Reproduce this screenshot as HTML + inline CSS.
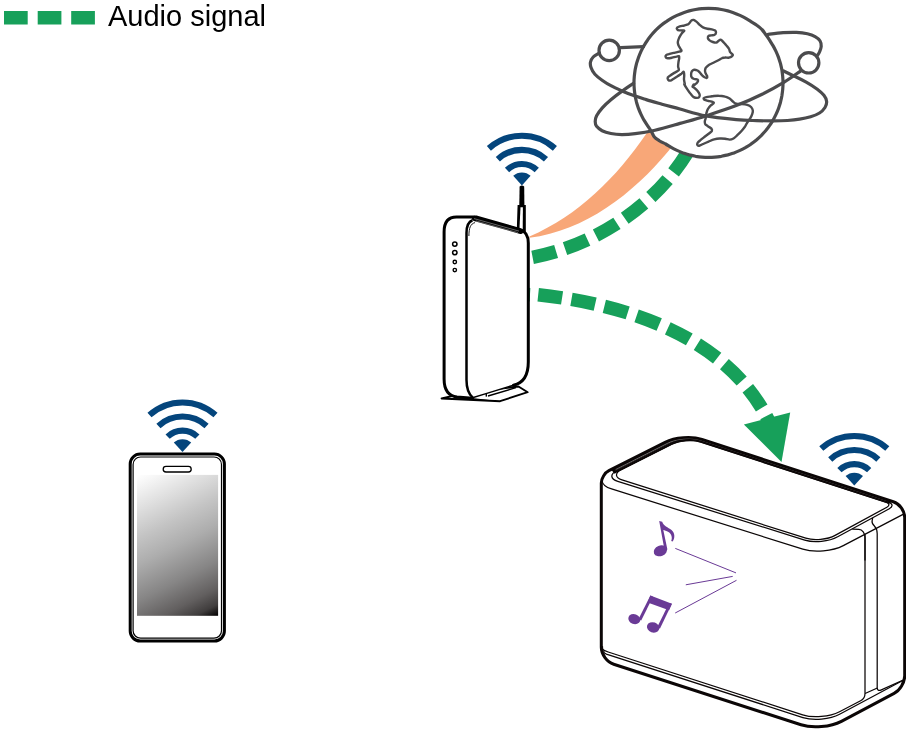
<!DOCTYPE html>
<html lang="en">
<head>
<meta charset="utf-8">
<title>Audio signal</title>
<style>
html,body{margin:0;padding:0;background:#fff;overflow:hidden}
svg{display:block}
text{font-family:"Liberation Sans",sans-serif}
</style>
</head>
<body>
<svg width="906" height="729" viewBox="0 0 906 729">
<defs>
  <g id="wifi" fill="none" stroke="#04457c" stroke-width="6.1">
    <path d="M-33.00,-37.03A49.6,49.6 0 0 1 33.00,-37.03"/>
    <path d="M-24.06,-26.17A35.55,35.55 0 0 1 24.06,-26.17"/>
    <path d="M-14.87,-15.46A21.45,21.45 0 0 1 14.87,-15.46"/>
    <path d="M0,0L-8.70,-9.53A12.9,12.9 0 0 1 8.70,-9.53Z" fill="#04457c" stroke="none"/>
  </g>
  <linearGradient id="scr" gradientUnits="userSpaceOnUse" x1="137" y1="475" x2="210" y2="619">
    <stop offset="0" stop-color="#ffffff"/>
    <stop offset="0.06" stop-color="#f6f6f6"/>
    <stop offset="0.2" stop-color="#dedede"/>
    <stop offset="0.35" stop-color="#c4c4c4"/>
    <stop offset="0.5" stop-color="#adadad"/>
    <stop offset="0.7" stop-color="#868585"/>
    <stop offset="0.85" stop-color="#625f5f"/>
    <stop offset="0.94" stop-color="#403d3d"/>
    <stop offset="1" stop-color="#060404"/>
  </linearGradient>
</defs>
<rect width="906" height="729" fill="#fff"/>
<g id="legend">
  <rect x="4" y="11" width="23.7" height="13.5" fill="#17a05a"/>
  <rect x="37.7" y="11" width="23.7" height="13.5" fill="#17a05a"/>
  <rect x="71.2" y="11" width="23.7" height="13.5" fill="#17a05a"/>
  <text x="108" y="26" font-size="29" fill="#000" style="will-change:transform">Audio signal</text>
</g>
<path id="orange" d="M646.3,133.8 C616.5,177.4 578.5,215.5 529.4,236.6 L529.4,237.8 C585.2,230.5 632.7,194 668.9,150.4 L690,120 L660,110 Z" fill="#f8a778"/>
<path id="gupper" d="M532.6,257.3 C600.4,244.3 664.6,200 696,137" fill="none" stroke="#17a05a" stroke-width="13.5" stroke-dasharray="24.2 9.4"/>
<path id="glower" d="M538.2,294.8 C626.9,304.4 729.9,337 770.5,424.5" fill="none" stroke="#17a05a" stroke-width="13.5" stroke-dasharray="24.2 9.4 24.2 9.4 24.2 9.4 24.2 9.4 24.2 9.4 24.2 9.4 24.2 9.4 24.2 9.4 40 0"/>
<path d="M528,294.6 L530,294.7" fill="none" stroke="#17a05a" stroke-width="13.5"/>
<path id="ghead" d="M743.9,424.6L790.2,412.5L781.5,461.9Z" fill="#17a05a"/>
<g id="globe" fill="none" stroke="#4b4b4d" stroke-width="3.2" stroke-linecap="round" stroke-linejoin="round">
  <path d="M680.0,123.4 C675.8,124.5 662.5,128.5 655.0,130.2 C647.5,131.9 640.7,133.0 635.2,133.7 C629.7,134.4 626.0,134.6 621.9,134.6 C617.8,134.6 614.2,134.2 610.9,133.5 C607.6,132.8 604.5,131.9 602.1,130.7 C599.7,129.5 597.8,127.8 596.6,126.3 C595.5,124.8 595.2,123.2 595.2,121.4 C595.2,119.7 595.5,118.0 596.6,115.8 C597.8,113.6 599.7,110.8 602.1,108.1 C604.5,105.4 607.7,102.5 610.9,99.8 C614.1,97.0 617.6,94.3 621.4,91.6 C625.2,88.8 631.5,84.7 633.5,83.3 L660,100 Z" fill="#fff" stroke="none"/>
  <path d="M634.0,82.9 C634.0,80.7 634.1,78.6 634.3,76.4 C634.5,74.3 634.8,72.1 635.1,70.0 C635.5,67.8 636.0,65.7 636.5,63.6 C637.1,61.5 637.8,59.5 638.5,57.4 C639.2,55.4 640.1,53.4 641.0,51.4 C641.9,49.5 642.9,47.5 644.0,45.7 C645.1,43.8 646.2,41.9 647.5,40.2 C648.7,38.4 650.0,36.7 651.4,35.0 C652.8,33.4 654.3,31.8 655.8,30.2 C657.4,28.7 659.0,27.2 660.6,25.8 C662.3,24.4 664.0,23.1 665.8,21.9 C667.5,20.6 669.4,19.5 671.2,18.4 C673.1,17.3 675.1,16.3 677.0,15.4 C679.0,14.5 681.0,13.6 683.0,12.9 C685.1,12.2 687.1,11.5 689.2,10.9 C691.3,10.4 693.4,9.9 695.6,9.5 C697.7,9.2 699.9,8.9 702.0,8.7 C704.2,8.5 706.3,8.4 708.5,8.4 C710.7,8.4 712.8,8.5 715.0,8.7 C717.1,8.9 719.3,9.2 721.4,9.5 C723.6,9.9 725.7,10.4 727.8,10.9 C729.9,11.5 731.9,12.2 734.0,12.9 C736.0,13.6 738.0,14.5 740.0,15.4 C741.9,16.3 743.9,17.3 745.8,18.4 C747.6,19.4 749.4,20.6 751.3,21.8 C753.1,22.9 755.1,24.0 756.8,25.3 C758.6,26.6 760.4,27.9 761.9,29.5 C763.4,31.0 764.6,33.0 765.9,34.8 C767.2,36.5 768.4,38.3 769.6,40.1 C770.7,42.0 771.9,43.8 773.0,45.6 C774.1,47.5 775.1,49.5 776.0,51.4 C776.9,53.4 777.8,55.4 778.5,57.4 C779.2,59.5 779.9,61.5 780.5,63.6 C781.0,65.7 781.5,67.8 781.9,70.0 C782.2,72.1 782.5,74.3 782.7,76.4 C782.9,78.6 783.0,80.7 783.0,82.9 C783.0,85.1 782.9,87.2 782.7,89.4 C782.5,91.5 782.2,93.7 781.9,95.8 C781.5,98.0 781.0,100.1 780.5,102.2 C779.9,104.3 779.2,106.3 778.5,108.4 C777.8,110.4 776.9,112.4 776.0,114.4 C775.1,116.3 774.1,118.3 773.0,120.2 C771.9,122.0 770.8,123.9 769.5,125.6 C768.3,127.4 767.0,129.1 765.6,130.8 C764.2,132.4 762.7,134.0 761.2,135.6 C759.6,137.1 758.0,138.6 756.4,140.0 C754.7,141.4 753.0,142.7 751.2,143.9 C749.5,145.2 747.6,146.3 745.8,147.4 C743.9,148.5 741.9,149.5 740.0,150.4 C738.0,151.3 736.0,152.2 734.0,152.9 C731.9,153.6 729.9,154.3 727.8,154.9 C725.7,155.4 723.6,155.9 721.4,156.3 C719.3,156.6 717.1,156.9 715.0,157.1 C712.8,157.3 710.7,157.4 708.5,157.4 C706.3,157.4 704.2,157.3 702.0,157.1 C699.9,156.9 697.7,156.6 695.6,156.3 C693.4,155.9 691.3,155.4 689.2,154.9 C687.1,154.3 685.1,153.6 683.0,152.9 C681.0,152.2 679.0,151.3 677.0,150.4 C675.1,149.5 673.1,148.5 671.2,147.4 C669.4,146.4 667.6,145.1 665.7,144.0 C663.8,143.0 661.6,142.2 659.7,141.0 C657.9,139.8 655.8,138.7 654.4,137.0 C653.0,135.3 652.3,132.9 651.1,131.0 C650.0,129.2 648.7,127.5 647.5,125.6 C646.3,123.8 645.1,122.0 644.0,120.2 C642.9,118.3 641.9,116.3 641.0,114.4 C640.1,112.4 639.2,110.4 638.5,108.4 C637.8,106.3 637.1,104.3 636.5,102.2 C636.0,100.1 635.5,98.0 635.1,95.8 C634.8,93.7 634.5,91.5 634.3,89.4 C634.1,87.2 634.0,85.1 634.0,82.9Z" fill="#fff"/>
  <g stroke-width="2.4">
  <path d="M693.6,19.9 C694.4,20.1 695.3,20.8 696.4,21.6 C697.4,22.4 698.6,23.9 699.7,24.9 C700.8,25.9 701.7,26.8 703.0,27.4 C704.3,28.1 705.9,28.5 707.4,28.8 C708.9,29.1 710.5,29.0 711.8,29.3 C713.1,29.6 714.4,29.9 715.1,30.4 C715.8,31.0 716.1,31.9 716.0,32.6 C715.9,33.4 715.4,34.4 714.6,34.8 C713.8,35.3 712.3,35.2 711.3,35.4 C710.2,35.6 709.1,35.5 708.5,35.9 C707.9,36.4 707.8,37.4 707.9,38.1 C708.1,38.9 708.8,39.7 709.6,40.4 C710.4,41.0 711.8,41.6 712.9,42.0 C714.0,42.4 715.3,42.7 716.2,42.6 C717.1,42.4 717.7,41.4 718.4,40.9 C719.2,40.4 719.9,39.7 720.6,39.8 C721.4,39.9 721.9,40.5 722.8,41.5 C723.8,42.4 725.1,44.1 726.2,45.3 C727.2,46.5 728.3,47.5 728.9,48.6 C729.6,49.7 729.5,51.0 730.0,51.9 C730.6,52.9 731.8,53.6 732.2,54.2 C732.7,54.7 733.0,54.8 732.8,55.3 C732.6,55.7 731.9,56.5 731.1,56.9 C730.4,57.3 729.4,57.6 728.4,57.7 C727.4,57.8 726.1,57.4 725.1,57.5 C724.0,57.5 723.4,57.6 722.3,58.0 C721.2,58.5 720.0,59.4 718.4,60.2 C716.9,61.0 714.6,62.2 712.9,63.0 C711.3,63.8 709.7,64.4 708.5,65.2 C707.3,66.0 706.3,67.0 705.7,67.9 C705.2,68.9 705.0,69.8 705.0,70.7 C705.0,71.6 705.4,72.5 705.7,73.5 C706.1,74.4 707.0,75.5 707.2,76.2 C707.4,77.0 707.3,77.7 706.8,77.9 C706.4,78.1 705.5,77.8 704.6,77.3 C703.8,76.9 702.7,75.9 701.9,75.1 C701.0,74.3 700.4,73.1 699.7,72.4 C698.9,71.6 698.4,70.9 697.5,70.5 C696.5,70.1 695.1,69.7 694.2,69.8 C693.2,70.0 692.5,70.5 691.9,71.3 C691.4,72.0 691.1,73.6 691.1,74.6 C691.0,75.6 691.2,76.6 691.7,77.3 C692.2,78.1 693.2,78.6 694.2,79.0 C695.1,79.4 696.8,79.2 697.5,79.5 C698.1,79.9 698.2,80.5 698.0,81.2 C697.8,81.8 697.1,82.7 696.4,83.4 C695.6,84.1 694.2,85.1 693.6,85.6 C693.0,86.2 692.5,86.9 692.5,86.7 C692.5,86.5 693.7,84.4 693.7,84.4 C693.8,84.4 692.4,86.0 692.6,86.6 C692.8,87.3 694.0,87.5 694.8,88.3 C695.7,89.0 696.8,90.0 697.6,91.0 C698.4,92.0 699.3,93.3 699.6,94.3 C699.9,95.4 699.7,96.5 699.2,97.1 C698.8,97.7 698.0,97.9 697.0,97.9 C696.1,97.9 694.7,97.7 693.7,97.1 C692.7,96.5 692.0,95.5 691.0,94.3 C690.0,93.2 688.8,91.6 687.7,89.9 C686.6,88.3 684.8,85.4 684.3,84.4 C683.9,83.4 684.8,84.8 684.8,84.0 C684.7,83.1 684.1,81.0 684.0,79.5 C683.9,78.1 684.3,76.4 684.2,75.1 C684.2,73.8 684.1,72.0 683.7,71.8 C683.2,71.6 682.5,73.1 681.5,73.8 C680.4,74.5 678.9,75.4 677.6,76.2 C676.3,77.0 674.9,77.9 673.7,78.7 C672.5,79.4 671.3,80.5 670.4,80.6 C669.5,80.8 668.7,80.3 668.2,79.8 C667.8,79.2 667.4,78.2 667.7,77.5 C667.9,76.9 668.8,76.4 669.9,75.7 C671.0,74.9 672.9,73.7 674.3,72.9 C675.7,72.1 677.4,71.3 678.1,70.7 C678.9,70.2 678.9,70.3 678.9,69.6 C678.9,68.9 678.2,67.6 678.1,66.3 C678.1,65.0 678.3,63.3 678.5,61.9 C678.7,60.5 679.2,59.0 679.2,58.0 C679.3,57.1 679.4,56.4 678.9,56.1 C678.5,55.9 677.6,56.3 676.5,56.6 C675.3,56.8 673.5,57.4 672.1,57.7 C670.6,58.0 668.7,58.4 667.7,58.3 C666.6,58.3 665.9,57.8 665.7,57.2 C665.4,56.7 665.5,55.8 666.0,55.3 C666.5,54.7 667.4,54.6 668.8,54.2 C670.1,53.7 672.5,53.2 674.3,52.8 C676.0,52.4 678.1,52.1 679.2,51.7 C680.4,51.4 681.3,51.4 681.5,50.8 C681.6,50.3 680.8,49.6 680.4,48.6 C679.9,47.7 678.9,46.4 678.5,45.3 C678.1,44.2 677.7,43.3 677.8,42.0 C677.9,40.7 678.6,39.0 679.2,37.6 C679.9,36.2 680.6,34.8 681.5,33.7 C682.3,32.6 683.9,31.5 684.2,31.0 C684.5,30.4 683.9,30.5 683.1,30.4 C682.3,30.3 680.2,30.5 679.2,30.4 C678.3,30.3 677.7,30.1 677.4,29.6 C677.0,29.2 676.6,28.2 677.0,27.7 C677.4,27.1 678.6,26.7 679.8,26.3 C681.0,26.0 682.8,25.8 684.2,25.5 C685.6,25.1 687.2,24.8 688.1,24.3 C689.0,23.9 689.2,23.3 689.7,22.7 C690.3,22.0 690.7,20.9 691.4,20.5 C692.0,20.0 692.8,19.7 693.6,19.9Z"/>
  <path d="M703.7,98.2 C703.9,97.8 705.0,97.4 706.4,97.1 C707.8,96.8 709.9,96.6 711.9,96.3 C714.0,96.1 716.4,95.6 718.6,95.7 C720.8,95.7 723.3,96.1 725.2,96.6 C727.0,97.0 728.3,97.7 729.6,98.5 C730.9,99.4 731.8,100.7 732.9,101.5 C734.0,102.4 734.8,103.3 736.2,103.7 C737.7,104.2 739.9,103.9 741.7,104.1 C743.6,104.2 745.7,104.3 747.3,104.8 C748.8,105.3 750.2,106.1 751.1,107.0 C752.0,108.0 752.6,109.2 752.8,110.4 C753.0,111.5 752.7,112.8 752.2,114.2 C751.8,115.6 750.8,117.3 750.0,118.6 C749.2,120.0 748.1,121.2 747.3,122.5 C746.4,123.8 746.0,125.0 745.1,126.4 C744.1,127.7 743.0,129.3 741.7,130.8 C740.5,132.2 738.7,133.9 737.3,135.2 C735.9,136.5 734.8,137.8 733.5,138.5 C732.2,139.2 731.0,139.6 729.6,139.6 C728.2,139.6 726.8,138.9 725.2,138.7 C723.5,138.5 721.5,138.4 719.7,138.5 C717.8,138.6 716.0,138.9 714.2,139.4 C712.3,139.9 710.5,140.8 708.6,141.6 C706.8,142.4 704.7,143.3 703.1,144.0 C701.5,144.7 700.2,145.5 699.2,145.7 C698.3,145.9 697.6,145.6 697.4,145.1 C697.1,144.7 697.1,143.7 697.6,142.9 C698.1,142.1 699.1,141.3 700.4,140.2 C701.6,139.1 703.8,137.5 705.3,136.3 C706.9,135.1 708.6,133.9 709.7,133.0 C710.8,132.1 711.7,131.5 711.9,130.8 C712.2,130.0 712.0,129.3 711.4,128.6 C710.7,127.8 709.1,127.1 708.1,126.4 C707.1,125.6 705.9,125.0 705.3,124.2 C704.8,123.3 704.7,122.5 704.8,121.4 C704.9,120.3 705.6,118.9 705.9,117.5 C706.1,116.1 706.1,114.6 706.4,113.1 C706.8,111.6 707.3,110.0 708.1,108.7 C708.8,107.4 709.9,106.3 710.8,105.4 C711.8,104.5 713.2,103.7 713.6,103.2 C714.0,102.6 713.9,102.4 713.0,102.1 C712.2,101.7 710.0,101.3 708.6,101.0 C707.3,100.6 705.6,100.3 704.8,99.9 C703.9,99.4 703.4,98.7 703.7,98.2Z"/>
  </g>
  <circle cx="609.2" cy="50.4" r="10.2"/>
  <circle cx="808.7" cy="62.8" r="10.2"/>
  <path d="M643.5,46.6 C639.7,46.8 624.4,47.5 620.6,47.7"/>
  <path d="M598.2,53.7 C597.4,54.2 594.5,55.6 593.2,57.0 C591.9,58.4 590.9,60.2 590.5,62.0 C590.1,63.8 590.3,65.5 591.0,67.5 C591.7,69.5 593.0,72.1 594.9,74.2 C596.8,76.3 599.4,78.3 602.1,80.2 C604.8,82.1 607.7,84.0 610.9,85.7 C614.1,87.5 617.7,89.1 621.4,90.7 C625.1,92.3 628.9,93.8 633.0,95.3 C637.1,96.8 641.4,98.1 646.2,99.6 C651.0,101.1 656.4,102.6 662.0,104.2 C667.6,105.8 672.7,107.0 680.0,109.0 C687.3,111.0 696.5,114.1 705.9,115.9 C715.3,117.7 727.8,118.8 736.2,119.6 C744.7,120.4 750.5,120.4 756.6,120.6 C762.8,120.8 768.0,120.9 773.1,120.9 C778.2,120.9 783.1,120.8 787.5,120.5 C791.9,120.2 795.8,119.8 799.6,119.2 C803.5,118.6 807.3,117.8 810.6,116.8 C813.9,115.8 817.1,114.5 819.5,113.0 C821.9,111.5 823.8,109.4 825.0,107.5 C826.2,105.6 826.8,103.4 826.6,101.4 C826.4,99.4 825.5,97.3 823.9,95.3 C822.3,93.3 820.2,91.4 817.3,89.2 C814.3,87.0 809.9,84.2 806.2,82.1 C802.5,80.0 799.0,78.4 795.2,76.6 C791.4,74.8 785.5,71.9 783.6,71.0"/>
  <path d="M768.2,34.3 C770.7,34.0 778.4,33.0 783.1,32.7 C787.8,32.4 792.4,32.2 796.4,32.4 C800.4,32.6 804.3,33.1 807.4,33.8 C810.5,34.5 813.0,35.4 815.1,36.6 C817.2,37.8 819.1,39.4 820.1,41.0 C821.1,42.6 821.3,44.7 821.2,46.5 C821.1,48.3 820.1,50.5 819.5,52.0 C818.9,53.5 817.8,54.8 817.5,55.3"/>
  <path d="M800.2,71.3 C797.5,73.1 790.6,78.3 784.2,82.1 C777.9,85.9 770.1,90.3 762.1,94.2 C754.1,98.1 745.6,102.0 736.2,105.6 C726.8,109.2 715.3,112.9 705.9,115.9 C696.5,118.9 688.5,121.0 680.0,123.4 C671.5,125.8 662.5,128.5 655.0,130.2 C647.5,131.9 640.7,133.0 635.2,133.7 C629.7,134.4 626.0,134.6 621.9,134.6 C617.8,134.6 614.2,134.2 610.9,133.5 C607.6,132.8 604.5,131.9 602.1,130.7 C599.7,129.5 597.8,127.8 596.6,126.3 C595.5,124.8 595.2,123.2 595.2,121.4 C595.2,119.7 595.5,118.0 596.6,115.8 C597.8,113.6 599.7,110.8 602.1,108.1 C604.5,105.4 607.7,102.5 610.9,99.8 C614.1,97.0 617.6,94.3 621.4,91.6 C625.2,88.8 631.5,84.7 633.5,83.3"/>
</g>
<g id="router" fill="none" stroke="#000" stroke-linejoin="round">
  <path d="M441.6,398.5 L500.1,401.2 L527.7,392.2 L518.5,386.5 L470,392 Z" fill="#fff" stroke-width="1.9"/>
  <path d="M441.6,398.5 L500.1,401.2 L472,398 Z" fill="#000" stroke="none"/>
  <path d="M517.6,205 L525.8,205 L525.8,232 L516.8,230 Z" fill="#000" stroke="none"/><path d="M520.5,207.3 L522.9,207.3 L522.7,231 L519.4,230 Z" fill="#fff" stroke="none"/>
  <path d="M519.6,186.5 Q521.9,184.3 524.2,186.5 L524.4,205.6 L519.3,205.6 Z" fill="#000" stroke="none"/>
  <path d="M444.1,232 C444.1,222 448,217.1 456.5,217.1 L477,217.1 L520.5,229.6 C526,231.5 528.3,236 528.3,243 L528.3,362 C528.3,376 523,384.5 512.3,385.7 L472.5,398 L457,397 C449,396 444.1,390.5 444.1,379 Z" fill="#fff" stroke="none"/>
  <path d="M513.5,385.2 C523.5,383 528.3,375 528.3,362 L528.3,243 C528.3,236 526,231.5 520.5,229.6 L477,217.1 L456.5,217.1 C448,217.1 444.1,222 444.1,232 L444.1,379 C444.1,390.5 449,396 457,397 L472.5,398.2" stroke-width="3" stroke-linecap="round"/>
  <path d="M472.5,397.8 L486,393.6 L513.6,385.2" stroke-width="1.5"/>
  <path d="M474.5,218.4 L520.8,231.4" stroke-width="5.2" stroke-linecap="round"/>
  <path d="M474,218.6 L519,231.1" stroke="#fff" stroke-width="0.4"/><path d="M476,220.9 L518,232.6" stroke="#fff" stroke-width="0.35"/>
  <path d="M472.8,397.6 C468.5,394 466.5,388 466.5,380 L466.5,233 C466.5,226 468,221.8 472.5,220.2" stroke-width="2.5"/>
  <path d="M468.9,236 C468.9,228 470.5,223.8 475,222.6" stroke-width="0.9"/>
  <circle cx="454.8" cy="244.1" r="2.2" stroke-width="1.5"/>
  <circle cx="454.8" cy="252.6" r="2.2" stroke-width="1.5"/>
  <circle cx="454.8" cy="262" r="1.7" stroke-width="1.4"/>
  <circle cx="454.8" cy="270.1" r="1.7" stroke-width="1.4"/>
  <path d="M486.2,393.6 L486.4,396.6 M488,396 L516,387.6" stroke-width="1.4"/>
</g>
<use href="#wifi" x="521.9" y="185.4"/>
<g id="phone" fill="none" stroke="#000">
  <rect x="130.2" y="454.1" width="94.2" height="187" rx="10" ry="10" fill="#fff" stroke-width="3"/>
  <rect x="133.1" y="457" width="88.4" height="181.2" rx="7.5" ry="7.5" stroke-width="1.2"/>
  <rect x="137" y="474.9" width="81.1" height="140.9" fill="url(#scr)" stroke="none"/>
  <rect x="163.2" y="466.4" width="28" height="5.6" rx="2.8" ry="2.8" fill="#fff" stroke-width="1.3"/>
</g>
<use href="#wifi" x="182.5" y="452.1"/>
<g id="speaker" fill="none" stroke="#0b0606" stroke-linejoin="round" stroke-linecap="round">
  <path d="M601.3,483.0 C601.3,478.4 604.7,472.8 608.9,470.7 L665.1,442.3 C674.9,437.4 691.5,436.1 702.0,439.5 L893.3,501.8 C899.6,503.8 904.7,510.9 904.7,517.5 L904.7,675.8 C904.7,682.4 899.9,690.4 894.1,693.4 L841.4,721.3 C830.7,726.9 812.5,728.5 801.0,724.8 L613.7,664.2 C606.9,662.1 601.3,654.4 601.3,647.3Z" fill="#fff" stroke-width="3"/>
  <path d="M611.0,469.6 L665.1,442.3 C674.9,437.4 691.5,436.1 702.0,439.5 L892.0,501.4 L889.0,503.7 L702.1,442.9 C693.2,440.0 679.1,441.1 670.8,445.3 L614.5,473.7Z" fill="#0b0606" stroke="none"/>
  <path d="M616.0,469.4 L667.4,443.4 C676.2,438.9 691.2,437.8 700.6,440.9 L887.0,501.6" stroke="#fff" stroke-width="0.4"/>
  <path d="M616.0,470.8 L668.2,444.5 C677.0,440.0 692.0,438.9 701.4,441.9 L887.0,502.4" stroke="#fff" stroke-width="0.35"/>
  <g stroke-width="1.25">
  <path d="M617.8,481.4 C610.2,479.0 609.8,474.1 616.9,470.5 L669.9,443.7 C678.2,439.5 692.3,438.4 701.2,441.3 L888.7,502.4 C892.9,503.8 893.2,506.6 889.3,508.7 L837.7,536.8 C829.0,541.6 814.1,543.0 804.7,540.1Z"/>
  <path d="M622.0,479.8 C615.0,477.6 614.6,473.1 621.2,469.8 L672.4,443.9 C679.7,440.2 692.2,439.2 700.0,441.8 L886.4,502.5 C889.6,503.5 889.8,505.6 886.9,507.2 L835.1,535.4 C827.4,539.6 814.2,540.9 805.8,538.2Z"/>
  <path d="M601.9,480.5 C602.5,485 605.8,487.3 611.6,488.9 L611.6,488.9 L802.8,549.2 C814.4,552.8 832.6,551.2 843.3,545.6 L903.5,514.1"/>
  <path d="M602.5,646.5 L602.5,648.3 C602.5,649.3 605.1,651.0 608.2,652.0 L802.7,714.8 C813.1,718.2 829.7,716.8 839.5,711.7 L860.6,700.7 C863.1,699.4 865.0,696.2 865.0,693.4 L865.0,534.5"/>
  <path d="M603.9,650.5 L603.9,651.9 C603.9,652.7 606.0,654.0 608.7,654.8 L802.9,717.6 C813.4,720.9 829.9,719.5 839.6,714.3 L903.2,680.3"/>
  <path d="M872.6,518.3 L872.1,520.8 C871.8,522.1 872.9,524.5 874.4,526.0 L874.4,526.0 C875.9,527.5 877.2,531.0 877.2,533.8 L877.2,687.8 C877.2,690.0 878.8,691.1 880.8,690.1 L902.7,680.2"/>
  <path d="M852.8,529.2 L858.9,529.4 C862.3,529.5 865.0,533.2 865.0,537.6 L865.0,560.0"/>
  <path d="M865.6,693.3 L876.8,688.2"/>
  </g>
</g>
<g id="notes" fill="#6a3a96" stroke="none">
  <ellipse cx="660.4" cy="550.8" rx="6.9" ry="5.3" transform="rotate(-22 660.4 550.8)"/>
  <path d="M659.2,521 L662.2,521.8 C663.5,526 668,527.5 671.5,530 C675,533 675.2,538 672.6,541.6 L671.2,541 C672.6,537.5 671.5,534 668.5,532 C666.5,530.8 664.5,530.3 663.3,530 L667.4,549.5 L664.6,550.5 Z"/>
  <ellipse cx="634.3" cy="619.1" rx="6.1" ry="4.9" transform="rotate(20 634.3 619.1)"/>
  <ellipse cx="653.1" cy="627.4" rx="6.3" ry="5.1" transform="rotate(20 653.1 627.4)"/>
  <path d="M650.4,595.6 L671.9,603.8 L669.1,610.3 L647.6,602.5 Z"/>
  <path d="M650.4,595.6 L653,596.8 L641.2,620.5 L638.3,619.5 Z"/>
  <path d="M669.2,603 L671.9,603.8 L660,628.5 L657,627.5 Z"/>
</g>
<g id="notelines" fill="none" stroke="#6a3a96" stroke-width="1">
  <path d="M675.3,548.4 L736,572.9"/>
  <path d="M685.8,584.8 L732.7,576.4"/>
  <path d="M675.2,613 L736.5,580.3"/>
</g>
<use href="#wifi" x="854.3" y="485.6"/>
</svg>
</body>
</html>
